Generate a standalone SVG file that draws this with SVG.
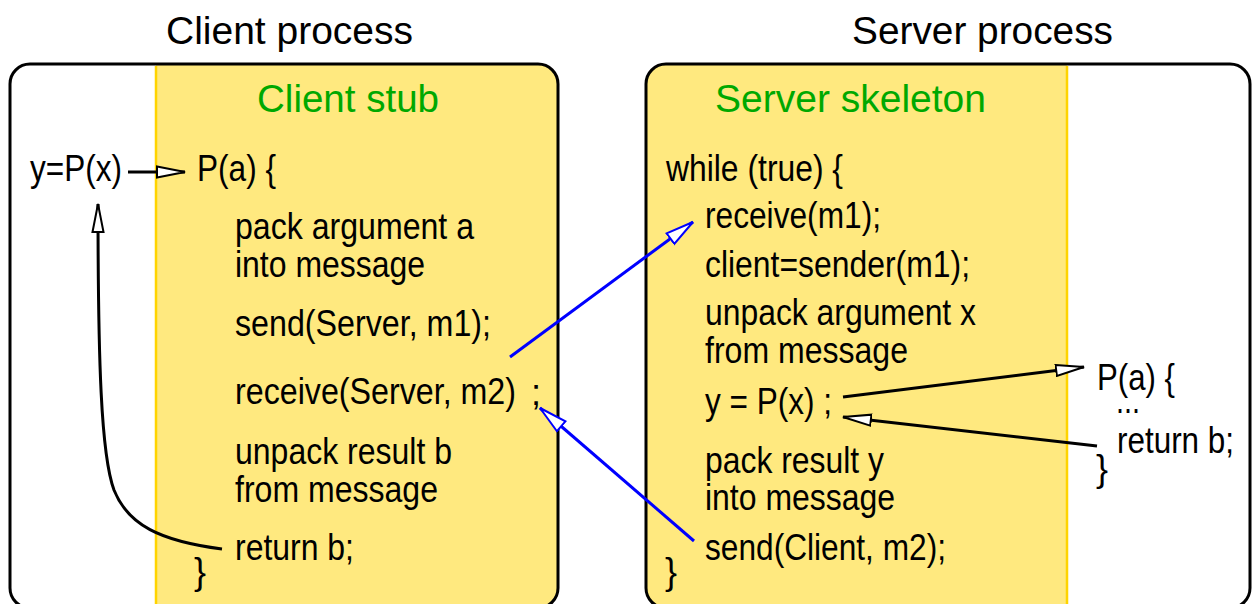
<svg xmlns="http://www.w3.org/2000/svg" width="1253" height="604" viewBox="0 0 1253 604">
  <style>
    .t { font-family: "Liberation Sans", Arial, sans-serif; font-size: 38px; fill: #000; }
    .h { font-family: "Liberation Sans", Arial, sans-serif; font-size: 38px; fill: #00a800; }
    .c { font-family: "Liberation Sans", Arial, sans-serif; font-size: 36px; fill: #000; }
    .frame { fill: none; stroke: #000; stroke-width: 3; }
    .stubfill { fill: #ffe97f; }
    .edge { stroke: #ffd400; stroke-width: 2.5; }
    .blk { fill: none; stroke: #000; stroke-width: 3; }
    .blu { fill: none; stroke: #0000ff; stroke-width: 3; }
  </style>
  <defs>
    <clipPath id="clipL"><rect x="10" y="64" width="548" height="544" rx="20"/></clipPath>
    <clipPath id="clipR"><rect x="646" y="64" width="604" height="544" rx="20"/></clipPath>
    <marker id="arrowBlack" viewBox="0 0 30 14" markerWidth="30" markerHeight="14" refX="29" refY="7" orient="auto" markerUnits="userSpaceOnUse">
      <path d="M1,1.5 L29,7 L1,12.5 Z" fill="#fff" stroke="#000" stroke-width="2"/>
    </marker>
    <marker id="arrowBlue" viewBox="0 0 30 16" markerWidth="30" markerHeight="16" refX="29" refY="8" orient="auto" markerUnits="userSpaceOnUse">
      <path d="M1,1.5 L29,8 L1,14.5 Z" fill="#fff" stroke="#0000ff" stroke-width="2"/>
    </marker>
  </defs>

  <rect width="1253" height="604" fill="#fff"/>

  <!-- Client process -->
  <g id="client-process">
    <text class="t" x="166" y="44" textLength="247" lengthAdjust="spacingAndGlyphs">Client process</text>
    <rect x="10" y="64" width="548" height="544" rx="20" fill="#fff"/>
    <rect class="stubfill" x="156" y="64" width="402" height="544" clip-path="url(#clipL)"/>
    <line class="edge" x1="156" y1="66" x2="156" y2="604"/>
    <rect class="frame" x="10" y="64" width="548" height="544" rx="20"/>
  </g>

  <g id="client-call">
    <text class="c" x="30" y="181" textLength="92" lengthAdjust="spacingAndGlyphs">y=P(x)</text>
  </g>

  <g id="client-stub">
    <text class="h" x="257" y="112" textLength="182" lengthAdjust="spacingAndGlyphs">Client stub</text>
    <text class="c" x="197" y="181" textLength="79" lengthAdjust="spacingAndGlyphs">P(a) {</text>
    <text class="c" x="235" y="239" textLength="239" lengthAdjust="spacingAndGlyphs">pack argument a</text>
    <text class="c" x="235" y="277" textLength="190" lengthAdjust="spacingAndGlyphs">into message</text>
    <text class="c" x="235" y="336" textLength="256" lengthAdjust="spacingAndGlyphs">send(Server, m1);</text>
    <text class="c" x="235" y="404" textLength="281" lengthAdjust="spacingAndGlyphs">receive(Server, m2)</text>
    <text class="c" x="531" y="405">;</text>
    <text class="c" x="235" y="464" textLength="217" lengthAdjust="spacingAndGlyphs">unpack result b</text>
    <text class="c" x="235" y="502" textLength="203" lengthAdjust="spacingAndGlyphs">from message</text>
    <text class="c" x="235" y="560" textLength="119" lengthAdjust="spacingAndGlyphs">return b;</text>
    <text class="c" x="194" y="584">}</text>
  </g>

  <!-- Server process -->
  <g id="server-process">
    <text class="t" x="852" y="44" textLength="261" lengthAdjust="spacingAndGlyphs">Server process</text>
    <rect x="646" y="64" width="604" height="544" rx="20" fill="#fff"/>
    <rect class="stubfill" x="646" y="64" width="421" height="544" clip-path="url(#clipR)"/>
    <line class="edge" x1="1067" y1="66" x2="1067" y2="604"/>
    <rect class="frame" x="646" y="64" width="604" height="544" rx="20"/>
  </g>

  <g id="server-skeleton">
    <text class="h" x="715" y="112" textLength="271" lengthAdjust="spacingAndGlyphs">Server skeleton</text>
    <text class="c" x="666" y="181" textLength="177" lengthAdjust="spacingAndGlyphs">while (true) {</text>
    <text class="c" x="705" y="228" textLength="176" lengthAdjust="spacingAndGlyphs">receive(m1);</text>
    <text class="c" x="705" y="277" textLength="265" lengthAdjust="spacingAndGlyphs">client=sender(m1);</text>
    <text class="c" x="705" y="325" textLength="271" lengthAdjust="spacingAndGlyphs">unpack argument x</text>
    <text class="c" x="705" y="363" textLength="203" lengthAdjust="spacingAndGlyphs">from message</text>
    <text class="c" x="705" y="414" textLength="127" lengthAdjust="spacingAndGlyphs">y = P(x) ;</text>
    <text class="c" x="705" y="473" textLength="179" lengthAdjust="spacingAndGlyphs">pack result y</text>
    <text class="c" x="705" y="510" textLength="190" lengthAdjust="spacingAndGlyphs">into message</text>
    <text class="c" x="705" y="560" textLength="241" lengthAdjust="spacingAndGlyphs">send(Client, m2);</text>
    <text class="c" x="665" y="584">}</text>
  </g>

  <g id="server-procedure">
    <text class="c" x="1097" y="390" textLength="78" lengthAdjust="spacingAndGlyphs">P(a) {</text>
    <text class="c" x="1116" y="413" textLength="24" lengthAdjust="spacingAndGlyphs">...</text>
    <text class="c" x="1117" y="453" textLength="117" lengthAdjust="spacingAndGlyphs">return b;</text>
    <text class="c" x="1096" y="481">}</text>
  </g>

  <!-- Connectors -->
  <g id="connectors">
    <line class="blk" x1="128" y1="172" x2="185" y2="172" marker-end="url(#arrowBlack)"/>
    <path class="blk" d="M222,549 C160,541 128,525 114,490 C101,455 98,360 98,204" marker-end="url(#arrowBlack)"/>
    <line class="blu" x1="510" y1="357" x2="693" y2="222" marker-end="url(#arrowBlue)"/>
    <line class="blu" x1="694" y1="541" x2="540" y2="408" marker-end="url(#arrowBlue)"/>
    <line class="blk" x1="843" y1="397" x2="1084" y2="367" marker-end="url(#arrowBlack)"/>
    <line class="blk" x1="1097" y1="446" x2="843" y2="417" marker-end="url(#arrowBlack)"/>
  </g>
</svg>
